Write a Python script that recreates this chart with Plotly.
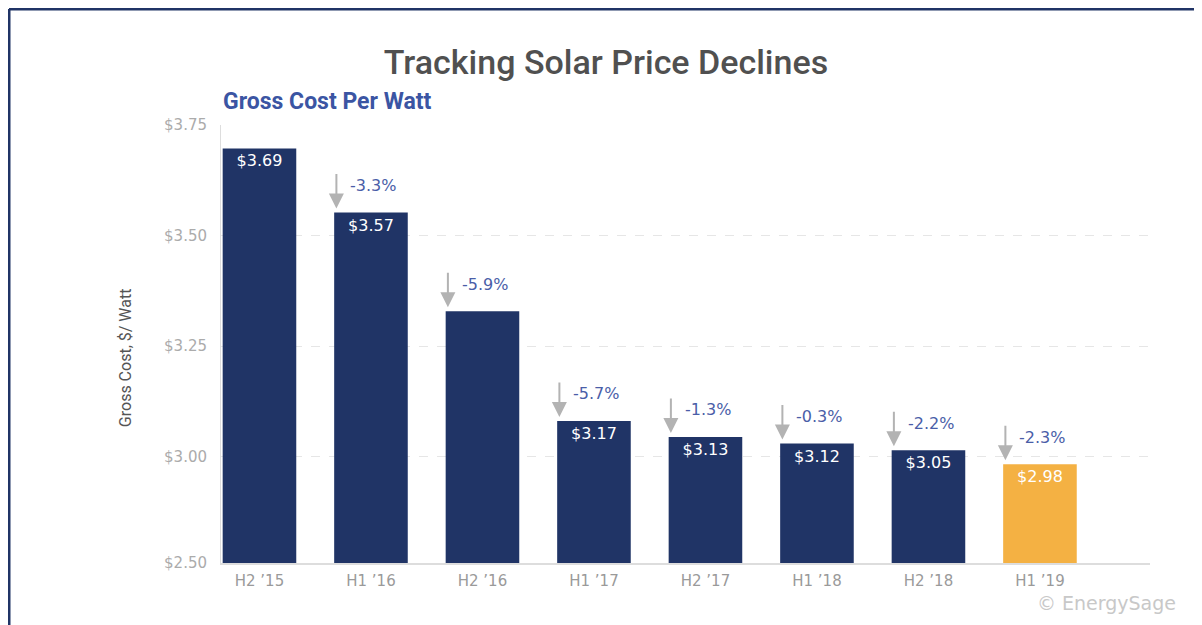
import plotly.graph_objects as go

categories = ["H2 ’15", "H1 ’16", "H2 ’16", "H1 ’17", "H2 ’17", "H1 ’18", "H2 ’18", "H1 ’19"]
bar_heights = [3.697, 3.552, 3.329, 3.081, 3.045, 3.030, 3.015, 2.983]
bar_labels = ["$3.69", "$3.57", "", "$3.17", "$3.13", "$3.12", "$3.05", "$2.98"]
pct_changes = ["", "-3.3%", "-5.9%", "-5.7%", "-1.3%", "-0.3%", "-2.2%", "-2.3%"]
bar_colors = ["#203466"] * 7 + ["#F4B143"]
y_tickvals = [2.76, 3.00, 3.25, 3.50, 3.75]
y_ticktext = ["$2.50", "$3.00", "$3.25", "$3.50", "$3.75"]

x_pos = list(range(len(categories)))
BAR_W = 0.66

# page body has an 8px margin: design in target-pixel coordinates, then subtract OFF
OFF = 8
W, H = 1202 - OFF, 625 - OFF
L = 221 - OFF
T = 125 - OFF
B = 625 - 562.7
R = 1202 - 1150
pw, ph = W - L - R, H - T - B


def px_x(px):
    return (px - OFF - L) / pw


def px_y(py):
    return (H - B - (py - OFF)) / ph


fig = go.Figure()
fig.add_trace(go.Bar(
    x=x_pos, y=bar_heights, width=BAR_W,
    marker=dict(color=bar_colors, line=dict(width=0)),
    text=bar_labels, textposition="inside", insidetextanchor="end",
    textfont=dict(family="DejaVu Sans", size=16, color="white"),
    textangle=0, hoverinfo="skip", cliponaxis=False,
))

annotations = []
for i, (h, p) in enumerate(zip(bar_heights, pct_changes)):
    if not p:
        continue
    ax_x = i - BAR_W / 2 + 0.02
    annotations.append(dict(
        x=ax_x, y=h, xref="x", yref="y", text="", showarrow=True,
        ax=0, ay=-40, arrowhead=2, arrowsize=1.5, arrowwidth=2,
        arrowcolor="#B3B3B3", standoff=4,
    ))
    annotations.append(dict(
        x=ax_x, y=h, xref="x", yref="y", text=p, showarrow=False,
        xanchor="left", yanchor="middle", xshift=12, yshift=27,
        font=dict(family="DejaVu Sans", size=16, color="#4A5EA8"),
    ))

annotations.append(dict(
    x=px_x(221), y=px_y(102), xref="paper", yref="paper", text="<b>Gross Cost Per Watt</b>",
    showarrow=False, xanchor="left", yanchor="middle",
    font=dict(family="Roboto", size=23, color="#3B55A3"),
))
annotations.append(dict(
    x=px_x(125), y=px_y(358), xref="paper", yref="paper", text="Gross Cost, $/ Watt",
    showarrow=False, textangle=-90, xanchor="center", yanchor="middle",
    font=dict(family="Roboto", size=16, color="#555555"),
))
annotations.append(dict(
    x=px_x(1178), y=px_y(603), xref="paper", yref="paper", text="© EnergySage",
    showarrow=False, xanchor="right", yanchor="middle",
    font=dict(family="DejaVu Sans", size=19, color="#C8C8C8"),
))

shapes = [
    dict(type="line", xref="paper", yref="paper", x0=px_x(9), x1=px_x(1199), y0=px_y(5.5), y1=px_y(5.5),
         line=dict(color="#C9CFDB", width=2)),
    dict(type="line", xref="paper", yref="paper", x0=px_x(9), x1=px_x(1199.5), y0=px_y(9), y1=px_y(9),
         line=dict(color="#203466", width=3)),
    dict(type="line", xref="paper", yref="paper", x0=px_x(9), x1=px_x(9), y0=px_y(9), y1=px_y(640),
         line=dict(color="#203466", width=3)),
    dict(type="line", xref="paper", yref="paper", x0=px_x(1199.5), x1=px_x(1199.5), y0=px_y(9), y1=px_y(640),
         line=dict(color="#203466", width=2)),
]

fig.update_layout(
    width=W, height=H,
    margin=dict(l=L, r=R, t=T, b=B, pad=0),
    paper_bgcolor="white", plot_bgcolor="white",
    showlegend=False,
    title=dict(text="Tracking Solar Price Declines", x=(606 - OFF) / W, xanchor="center",
               y=1 - (62 - OFF) / H, yanchor="middle", yref="container",
               font=dict(family="Roboto", size=34, color="#505050", weight=500)),
    annotations=annotations, shapes=shapes,
    xaxis=dict(
        range=[-0.345, 7.987], tickvals=x_pos, ticktext=categories,
        showgrid=False, zeroline=False, showline=True, linecolor="#DDDDDD", linewidth=2,
        ticks="", ticklabelstandoff=3,
        tickfont=dict(family="DejaVu Sans", size=15, color="#9A9A9A"),
    ),
    yaxis=dict(
        range=[2.76, 3.75], tickvals=y_tickvals, ticktext=y_ticktext,
        showgrid=True, gridcolor="#E6E6E6", griddash="dash", gridwidth=1,
        zeroline=False, showline=True, linecolor="#DDDDDD", linewidth=1,
        ticks="", ticklabelstandoff=10,
        tickfont=dict(family="DejaVu Sans", size=15, color="#ABABAB"),
    ),
)

fig.write_html("out.html")
